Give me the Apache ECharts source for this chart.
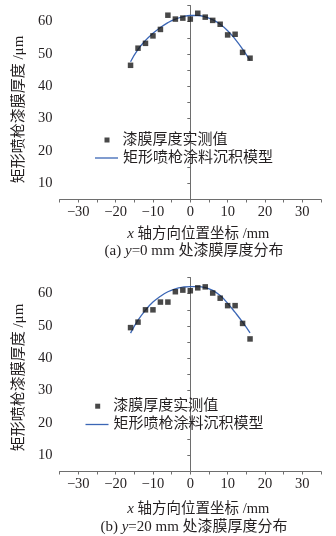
<!DOCTYPE html>
<html>
<head>
<meta charset="utf-8">
<script src="https://cdn.jsdelivr.net/npm/echarts@6/dist/echarts.min.js"></script>
<style>
  html, body { margin: 0; padding: 0; background: #fff; }
  #chart { width: 336px; height: 536px; }
</style>
</head>
<body>
<div id="chart"></div>
<script>
// x positions along the spray gun axis (mm)
const xPositions = [-16, -14, -12, -10, -8, -6, -4, -2, 0, 2, 4, 6, 8, 10, 12, 14, 16];

// (a) y = 0 mm
const measuredA = [46.5, 51.8, 53.3, 55.6, 57.6, 62.0, 60.8, 61.1, 60.8, 62.6, 61.4, 60.4, 59.2, 55.9, 56.1, 50.5, 48.7];
const modelA = [47.6, 51.4, 54.2, 56.4, 58.2, 59.7, 60.8, 61.5, 61.9, 61.9, 61.5, 60.6, 59.2, 57.2, 54.6, 51.5, 48.0];

// (b) y = 20 mm
const measuredB = [49.5, 51.2, 55.0, 55.0, 57.4, 57.4, 60.6, 61.1, 60.9, 61.8, 62.1, 60.2, 58.6, 56.3, 56.3, 50.8, 46.0];
const modelB = [47.8, 51.8, 54.9, 57.4, 59.2, 60.6, 61.5, 62.0, 62.2, 62.2, 61.9, 61.0, 59.4, 57.0, 54.2, 51.2, 47.9];

const seriesNames = ['漆膜厚度实测值', '矩形喷枪涂料沉积模型'];
const yAxisName = '矩形喷枪漆膜厚度 /μm';
const xAxisName = '{i|x} 轴方向位置坐标 /mm';
const captions = ['(a) {i|y}=0 mm 处漆膜厚度分布', '(b) {i|y}=20 mm 处漆膜厚度分布'];

const FONT = '"Liberation Serif", "Noto Sans CJK SC", serif';
const TEXT = '#231f20';
const AXIS = '#6e6e6e';
const BLUE = '#3b66b5';

const pairs = (ys) => xPositions.map((x, i) => [x, ys[i]]);
const minus = (v) => (v < 0 ? '\u2212' + Math.abs(v) : String(v));
const italic = { i: { fontStyle: 'italic', fontFamily: '"Liberation Serif", serif', fontSize: 15, color: TEXT } };

const gridTops = [5.5, 277.5];
const xNameGaps = [27, 30];
const yNamePads = [7, 3];
const captionY = [251, 527];

function xAxisFor(idx) {
  return {
    gridIndex: idx,
    type: 'value',
    min: -35,
    max: 35,
    interval: 5,
    name: xAxisName,
    nameLocation: 'middle',
    nameGap: xNameGaps[idx],
    nameTextStyle: { color: TEXT, fontFamily: FONT, fontSize: 14.5, padding: [0, 0, 0, 16], rich: italic },
    axisLine: { onZero: false, lineStyle: { color: AXIS, width: 1 } },
    axisTick: { inside: false, length: 3, lineStyle: { color: AXIS } },
    axisLabel: {
      color: TEXT, fontFamily: FONT, fontSize: 14.5, margin: 5,
      formatter: (v) => (v % 10 === 0 ? minus(v) : ''),
    },
    splitLine: { show: false },
  };
}

function yAxisFor(idx) {
  return {
    gridIndex: idx,
    type: 'value',
    min: 5,
    max: 65,
    interval: 5,
    name: yAxisName,
    nameLocation: 'middle',
    nameGap: 33,
    nameTextStyle: { color: TEXT, fontFamily: FONT, fontSize: 15, padding: [0, yNamePads[idx] * 2, 0, 0] },
    axisLine: { show: true, lineStyle: { color: AXIS, width: 1 } },
    axisTick: { show: true, inside: false, length: 3, lineStyle: { color: AXIS } },
    axisLabel: {
      color: TEXT, fontFamily: FONT, fontSize: 14.5, margin: 7,
      formatter: (v) => (v % 10 === 0 ? String(v) : ''),
    },
    splitLine: { show: false },
  };
}

function seriesFor(idx, measured, model) {
  return [
    {
      name: seriesNames[0] + (idx ? ' ' : ''),
      type: 'scatter',
      xAxisIndex: idx,
      yAxisIndex: idx,
      symbol: 'rect',
      symbolSize: 5.5,
      itemStyle: { color: '#1a1a1a' },
      data: pairs(measured),
      z: 3,
    },
    {
      name: seriesNames[1] + (idx ? ' ' : ''),
      type: 'line',
      xAxisIndex: idx,
      yAxisIndex: idx,
      smooth: true,
      symbol: 'none',
      lineStyle: { color: BLUE, width: 1.3 },
      itemStyle: { color: BLUE },
      data: pairs(model),
      z: 2,
    },
  ];
}

// legend placement: [square left, square center y, text pad, line left, line center y]
const legendSpots = [
  [104.5, 140.5, 8, 95, 158.5],
  [95.2, 406.7, 8, 85.5, 425],
];

const legends = [];
legendSpots.forEach((s, idx) => {
  const suffix = idx ? ' ' : '';
  legends.push({
    data: [{ name: seriesNames[0] + suffix, icon: 'rect' }],
    left: s[0],
    top: s[1] - 8,
    itemWidth: 5,
    itemHeight: 5,
    padding: 0,
    formatter: (n) => n.trim(),
    textStyle: { color: TEXT, fontFamily: FONT, fontSize: 15, padding: [0, 0, 0, s[2]] },
    selectedMode: false,
  });
  legends.push({
    data: [{ name: seriesNames[1] + suffix, icon: 'rect', itemStyle: { color: BLUE } }],
    left: s[3],
    top: s[4] - 8,
    itemWidth: 23,
    itemHeight: 1.3,
    padding: 0,
    formatter: (n) => n.trim(),
    textStyle: { color: TEXT, fontFamily: FONT, fontSize: 15 },
    selectedMode: false,
  });
});

const chart = echarts.init(document.getElementById('chart'), null, { renderer: 'canvas' });
chart.setOption({
  backgroundColor: '#fff',
  animation: false,
  grid: gridTops.map((t) => ({ left: 59.6, width: 261.4, top: t, height: 194 })),
  xAxis: [xAxisFor(0), xAxisFor(1)],
  yAxis: [yAxisFor(0), yAxisFor(1)],
  legend: legends,
  series: [...seriesFor(0, measuredA, modelA), ...seriesFor(1, measuredB, modelB)],
  graphic: captions.map((c, idx) => ({
    type: 'text',
    x: 194,
    y: captionY[idx],
    style: {
      text: c,
      align: 'center',
      verticalAlign: 'middle',
      fill: TEXT,
      fontFamily: FONT,
      fontSize: 15,
      rich: italic,
    },
  })),
});
</script>
</body>
</html>
